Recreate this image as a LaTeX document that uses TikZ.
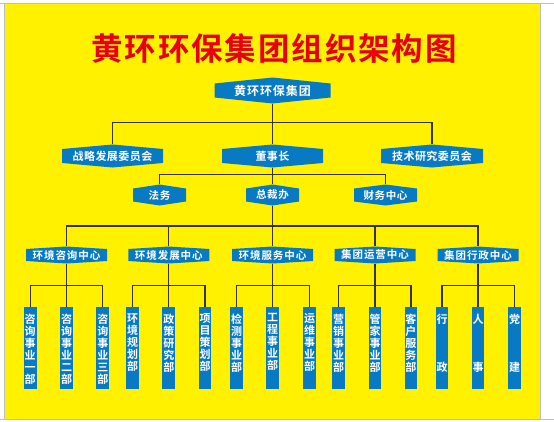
\documentclass[tikz,border=0pt]{standalone}
\usepackage{fontspec}
\setmainfont{Noto Sans CJK SC}[BoldFont={Noto Sans CJK SC Bold}]
\usetikzlibrary{calc}
\definecolor{bgyellow}{RGB}{255,241,0}
\definecolor{boxblue}{RGB}{8,122,196}
\definecolor{titlered}{RGB}{230,0,18}
\definecolor{linecol}{RGB}{58,50,12}
\definecolor{framegray}{RGB}{190,190,190}
\tikzset{
  conn/.style={draw=linecol, line width=1.3pt},
  hexlabel/.style={inner sep=0pt, text=white},
  topfont/.style={font=\fontsize{12}{12}\selectfont\bfseries\addfontfeature{LetterSpace=8}},
  rtwo/.style={font=\fontsize{11}{11}\selectfont\bfseries\addfontfeature{LetterSpace=4}},
  rthree/.style={font=\fontsize{10.5}{10.5}\selectfont\bfseries\addfontfeature{LetterSpace=5}},
  rfour/.style={font=\fontsize{10.5}{10.5}\selectfont\bfseries\addfontfeature{LetterSpace=9}},
  deptrect/.style={fill=boxblue, minimum width=12.7pt, minimum height=82pt, inner sep=0pt},
  depttext/.style={text=white, font=\fontsize{11}{12}\selectfont\bfseries, align=center, inner sep=0pt, anchor=north},
  titlestyle/.style={text=titlered, inner sep=0pt, font=\fontsize{31.5}{31.5}\selectfont\bfseries\addfontfeature{LetterSpace=6}}
}
% name, cx, cy, width, side height, peak, font style, text
\newcommand{\hexnode}[8]{%
  \pgfmathsetmacro{\hxl}{#2-#4/2}%
  \pgfmathsetmacro{\hxr}{#2+#4/2}%
  \pgfmathsetmacro{\hyt}{#3-#5/2}%
  \pgfmathsetmacro{\hyb}{#3+#5/2}%
  \pgfmathsetmacro{\hpt}{#3-#5/2-#6}%
  \pgfmathsetmacro{\hpb}{#3+#5/2+#6}%
  \pgfmathsetmacro{\hht}{#5+2*#6}%
  \fill[boxblue] (\hxl,\hyt) -- (#2,\hpt) -- (\hxr,\hyt) -- (\hxr,\hyb) -- (#2,\hpb) -- (\hxl,\hyb) -- cycle;
  \node[hexlabel,#7, minimum width=#4pt, minimum height=\hht pt] (#1) at (#2,#3) {#8};
}
\newcommand{\deptbox}[3]{%
  \node[deptrect] (#1) at (#2,348) {};
  \node[depttext] (#1t) at (#2,313.5) {#3};
}
\begin{document}
\begin{tikzpicture}[x=1pt,y=-1pt]
\useasboundingbox (0,0) rectangle (554,421);
\fill[white] (0,0) rectangle (554,421);
\fill[bgyellow] (4,3.5) rectangle (540.5,419);
\draw[framegray, line width=0.8pt] (0,3.5) -- (554,3.5);
\draw[framegray, line width=0.8pt] (0,419) -- (554,419);
\draw[framegray, line width=0.8pt] (4,3.5) -- (4,419);
\draw[framegray, line width=0.8pt] (540.5,3.5) -- (540.5,419);

\node[titlestyle] (title) at (274,48) {黄环环保集团组织架构图};

% bus coordinates
\coordinate (bus1) at (272.5,122.7);
\coordinate (bus2) at (272.5,174.3);
\coordinate (bus3) at (272.5,226);

\hexnode{top}{272.5}{90.5}{116}{14}{6}{topfont}{黄环环保集团}
\hexnode{zl}{112.5}{156}{101}{14}{4.5}{rtwo}{战略发展委员会}
\hexnode{dsz}{272.5}{156}{101}{14}{4.5}{rtwo}{董事长}
\hexnode{js}{432}{156}{102}{14}{4.5}{rtwo}{技术研究委员会}
\hexnode{fw}{159.5}{195}{53}{13}{4}{rthree}{法务}
\hexnode{zcb}{272.5}{195}{53}{13}{4}{rthree}{总裁办}
\hexnode{cw}{385.5}{195}{63}{13}{4}{rthree}{财务中心}
\hexnode{c1}{66.5}{255}{81}{12}{2.5}{rfour}{环境咨询中心}
\hexnode{c2}{168.8}{255}{81}{12}{2.5}{rfour}{环境发展中心}
\hexnode{c3}{272.5}{255}{81}{12}{2.5}{rfour}{环境服务中心}
\hexnode{c4}{375}{255}{81}{12}{2.5}{rfour}{集团运营中心}
\hexnode{c5}{478}{255}{81}{12}{2.5}{rfour}{集团行政中心}

\deptbox{b11}{30.2}{咨\\询\\事\\业\\一\\部}
\deptbox{b12}{66.5}{咨\\询\\事\\业\\二\\部}
\deptbox{b13}{102.8}{咨\\询\\事\\业\\三\\部}
\deptbox{b21}{132.5}{环\\境\\规\\划\\部}
\deptbox{b22}{168.8}{政\\策\\研\\究\\部}
\deptbox{b23}{205.1}{项\\目\\策\\划\\部}
\deptbox{b31}{236.5}{检\\测\\事\\业\\部}
\deptbox{b32}{272.5}{工\\程\\事\\业\\部}
\deptbox{b33}{309.6}{运\\维\\事\\业\\部}
\deptbox{b41}{338.7}{营\\销\\事\\业\\部}
\deptbox{b42}{375}{管\\家\\事\\业\\部}
\deptbox{b43}{410.9}{客\\户\\服\\务\\部}
\deptbox{b51}{442}{行\\[36pt]政}
\deptbox{b52}{478}{人\\[36pt]事}
\deptbox{b53}{514.6}{党\\[36pt]建}

\coordinate (g1) at (66.5,285.7);
\coordinate (g2) at (168.8,285.7);
\coordinate (g3) at (272.5,285.7);
\coordinate (g4) at (375,285.7);
\coordinate (g5) at (478,285.7);

\draw[conn] (top.south) -- (bus1);
\draw[conn] (zl.north) |- (bus1) -| (js.north);
\draw[conn] (bus1) -- (dsz.north);
\draw[conn] (dsz.south) -- (bus2);
\draw[conn] (fw.north) |- (bus2) -| (cw.north);
\draw[conn] (bus2) -- (zcb.north);
\draw[conn] (zcb.south) -- (bus3);
\draw[conn] (c1.north) |- (bus3) -| (c5.north);
\draw[conn] (c2.north) -- (c2.north |- bus3);
\draw[conn] (c4.north) -- (c4.north |- bus3);
\draw[conn] (bus3) -- (c3.north);

\draw[conn] (c1.south) -- (b12.north);
\draw[conn] (b11.north) |- (g1) -| (b13.north);
\draw[conn] (c2.south) -- (b22.north);
\draw[conn] (b21.north) |- (g2) -| (b23.north);
\draw[conn] (c3.south) -- (b32.north);
\draw[conn] (b31.north) |- (g3) -| (b33.north);
\draw[conn] (c4.south) -- (b42.north);
\draw[conn] (b41.north) |- (g4) -| (b43.north);
\draw[conn] (c5.south) -- (b52.north);
\draw[conn] (b51.north) |- (g5) -| (b53.north);
\end{tikzpicture}
\end{document}
